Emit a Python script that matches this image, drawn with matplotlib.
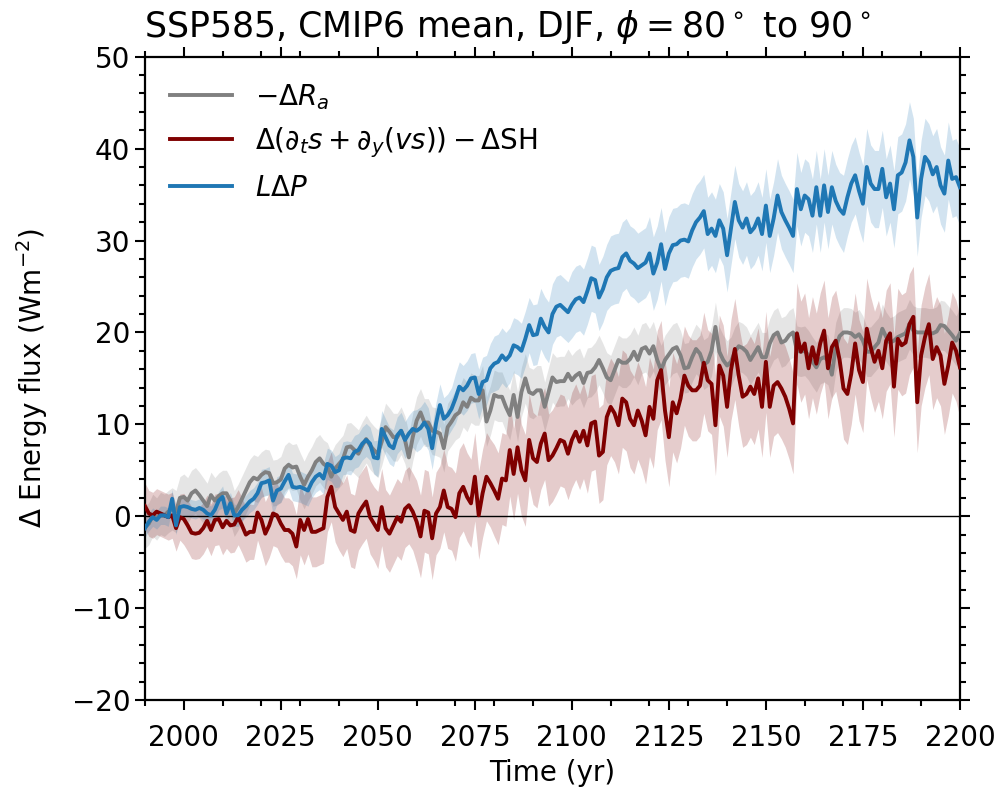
import numpy as np
import matplotlib
matplotlib.use("Agg")
import matplotlib.pyplot as plt
from matplotlib.ticker import MultipleLocator

# ---- data, one row per decade ----
neg_dRa = [
    -1.2, -0.8, 0.1, -0.3, 0.3, 0.1, 0.5, 0.8, 0.5, 2.0,
    2.1, 1.7, 2.5, 2.8, 2.3, 1.7, 1.1, 2.3, 1.7, 2.2,
    2.5, 2.5, 1.7, 0.3, 1.0, 1.9, 2.8, 3.7, 4.2, 4.0,
    4.5, 4.8, 4.7, 3.6, 3.7, 4.0, 5.2, 5.6, 5.3, 5.4,
    4.3, 3.4, 4.3, 5.0, 5.9, 6.3, 5.7, 5.4, 4.3, 5.2,
    5.7, 6.2, 7.5, 7.6, 7.2, 6.8, 7.7, 8.4, 7.7, 7.2,
    6.8, 8.1, 9.7, 9.2, 8.6, 8.6, 9.3, 8.3, 6.4, 8.6,
    10.4, 11.3, 10.2, 10.2, 9.3, 9.2, 9.0, 7.4, 9.7, 10.3,
    11.0, 11.3, 12.4, 11.9, 12.9, 12.6, 12.6, 13.7, 10.3, 11.5,
    13.2, 13.0, 13.0, 11.9, 11.0, 13.2, 10.8, 13.5, 15.0, 13.5,
    13.3, 13.7, 13.7, 11.9, 13.5, 15.1, 14.6, 14.7, 14.7, 15.5,
    14.8, 15.3, 15.6, 14.5, 15.6, 15.7, 16.2, 17.0, 16.1, 15.1,
    14.8, 15.9, 17.0, 16.7, 16.7, 17.1, 17.9, 17.0, 18.2, 18.4,
    17.7, 18.5, 17.0, 15.9, 17.0, 17.6, 18.2, 18.4, 17.5, 16.1,
    16.2, 17.3, 18.2, 17.7, 16.5, 16.8, 18.0, 20.6, 17.9, 17.0,
    16.4, 16.8, 17.9, 18.5, 18.3, 17.9, 17.0, 17.7, 18.4, 17.3,
    17.3, 18.8, 19.7, 20.0, 18.9, 19.1, 19.7, 20.0, 18.0, 17.9,
    18.0, 17.5, 16.8, 16.2, 17.1, 17.3, 17.0, 15.4, 18.4, 19.6,
    20.0, 20.0, 19.9, 19.5, 19.8, 19.1, 17.9, 17.9, 18.4, 18.9,
    20.4, 19.5, 18.9, 19.1, 19.5, 19.7, 19.9, 20.9, 20.2, 20.0,
    20.0, 20.0, 19.9, 19.9, 20.1, 20.8, 20.7, 20.2, 19.7, 19.1,
    19.9,
]

dry_static = [
    1.1, 0.3, 0.1, 0.5, 0.3, 0.1, -0.1, 0.1, -1.3, -0.1,
    -0.3, -1.0, -1.8, -1.9, -1.8, -1.3, -0.5, -1.5, -0.4, -0.3,
    -1.2, -0.5, -1.0, -0.9, -0.1, -1.0, -2.0, -1.7, -1.7, 0.4,
    -0.4, -1.9, -1.0, 0.3, 0.1, -0.8, -1.5, -1.5, -1.9, -3.3,
    -0.4, -1.5, -0.3, -1.7, -1.7, -1.5, -1.3, 2.1, 3.2, 1.0,
    0.3, -0.4, 0.5, -1.5, -1.7, 0.3, 1.0, 1.6, -0.1, -0.8,
    -1.5, 1.0, -1.3, -1.9, -1.0, -0.1, -0.6, 0.8, 1.2, 0.5,
    -0.6, -2.2, 0.6, 0.4, -2.4, 0.3, 1.0, 2.8, 1.0, 0.8,
    -0.1, 2.5, 3.2, 2.1, 1.4, 4.3, 0.1, 2.5, 4.3, 3.6,
    2.8, 1.9, 4.1, 3.9, 7.2, 4.6, 7.5, 5.0, 3.9, 8.3,
    6.3, 5.9, 7.9, 9.0, 6.1, 6.6, 7.4, 8.3, 8.1, 6.8,
    8.3, 9.2, 8.1, 9.3, 7.7, 10.1, 10.3, 6.6, 7.0, 10.8,
    11.9, 11.2, 9.9, 12.8, 12.4, 10.6, 9.9, 11.5, 10.4, 8.8,
    11.9, 10.6, 14.8, 15.9, 11.5, 8.6, 12.4, 11.2, 12.8, 15.3,
    14.2, 13.7, 13.7, 14.2, 16.7, 14.8, 14.4, 9.9, 16.4, 15.3,
    11.9, 15.9, 18.2, 15.3, 13.0, 13.3, 14.1, 13.3, 15.0, 11.9,
    16.8, 11.9, 14.2, 14.6, 13.9, 13.0, 11.7, 10.1, 19.9, 17.9,
    18.8, 16.1, 18.4, 16.6, 18.8, 20.2, 16.1, 18.4, 19.1, 17.0,
    13.9, 13.3, 15.5, 18.8, 15.9, 14.6, 20.4, 18.4, 16.8, 18.0,
    16.1, 19.1, 19.9, 14.1, 19.3, 18.6, 18.9, 20.9, 21.7, 12.4,
    17.5, 19.5, 20.9, 17.1, 18.4, 17.5, 14.4, 16.4, 18.9, 18.0,
    16.2,
]

L_dP = [
    -1.3, -0.6, -0.1, -0.4, 0.1, 0.1, -0.1, 1.9, -1.0, 1.0,
    1.1, 1.0, 0.8, 0.7, 0.9, 0.7, 0.3, 0.1, 0.7, 1.7,
    2.1, 0.3, 1.4, 0.1, 0.1, 0.7, 1.1, 1.6, 1.9, 2.5,
    3.6, 3.7, 3.9, 1.7, 2.8, 3.0, 3.8, 4.5, 3.2, 3.1,
    3.2, 3.0, 2.8, 3.7, 4.3, 4.6, 4.1, 5.7, 5.5, 4.8,
    5.0, 6.3, 6.4, 6.3, 7.0, 7.2, 7.9, 8.3, 7.9, 6.4,
    6.3, 9.5, 8.6, 7.7, 7.4, 8.8, 9.3, 8.3, 9.0, 9.5,
    9.3, 9.6, 10.2, 9.5, 7.4, 10.1, 12.1, 10.6, 11.0, 11.7,
    12.8, 14.1, 13.7, 14.2, 15.0, 15.1, 13.3, 14.6, 14.8, 16.1,
    16.6, 16.8, 17.5, 17.0, 17.5, 18.6, 18.4, 18.0, 19.3, 20.8,
    19.7, 19.8, 21.5, 20.6, 20.0, 22.0, 22.8, 23.0, 22.6, 22.2,
    23.0, 23.6, 23.8, 23.3, 24.5, 25.9, 25.7, 23.8, 24.7, 26.0,
    26.7, 26.9, 27.0, 28.2, 28.6, 27.8, 27.5, 27.0, 27.3, 27.6,
    28.6, 26.4, 27.6, 29.6, 26.9, 28.6, 29.5, 29.6, 30.0, 30.1,
    29.9, 31.1, 32.0, 32.5, 33.2, 30.7, 31.3, 30.5, 32.2, 31.3,
    28.4, 31.3, 34.2, 32.2, 31.4, 32.4, 30.9, 31.4, 32.4, 30.7,
    33.8, 30.5, 32.4, 34.9, 33.1, 32.2, 31.4, 30.5, 35.6, 33.4,
    34.9, 34.5, 32.7, 35.8, 32.7, 36.0, 33.1, 35.8, 34.3, 33.4,
    32.9, 34.7, 36.2, 37.1, 35.4, 34.0, 38.0, 36.2, 35.6, 35.6,
    37.8, 34.7, 36.2, 33.4, 37.1, 37.4, 38.5, 40.9, 39.1, 32.5,
    36.7, 39.1, 38.5, 37.2, 38.0, 36.0, 35.1, 38.7, 36.7, 36.9,
    35.8,
]

# spread (half-width of shading) per decade, 1990s ... 2190s, 2200
spread_Ra = [2.3, 2.5, 2.5, 2.5, 2.6, 2.6, 2.6, 2.6, 2.7, 2.7, 2.7,
             2.7, 2.7, 2.7, 2.7, 2.7, 2.7, 2.7, 2.7, 2.7, 2.7, 2.7]
spread_S = [2.5, 2.8, 3.0, 3.5, 3.8, 4.0, 4.2, 4.5, 4.8, 5.0, 5.0,
            5.2, 5.3, 5.4, 5.5, 5.5, 5.5, 5.5, 5.5, 5.5, 5.5, 5.5]
spread_P = [1.0, 1.0, 1.2, 1.5, 1.7, 1.8, 2.0, 2.3, 2.7, 3.0, 3.3,
            3.6, 3.8, 4.0, 4.0, 4.0, 4.0, 4.0, 4.2, 4.2, 4.2, 4.2]

years = np.arange(1990, 2201)

labels = [r'$-\Delta R_a$',
          r'$\Delta(\partial_t s+\partial_y(vs))-\Delta\mathrm{SH}$',
          r'$L\Delta P$']
colors = ['gray', '#7f0000', '#1f77b4']
series = [neg_dRa, dry_static, L_dP]
spreads = [spread_Ra, spread_S, spread_P]

xticks = [2000, 2025, 2050, 2075, 2100, 2125, 2150, 2175, 2200]

plt.rcParams['font.family'] = ['DejaVu Sans']
plt.rcParams['mathtext.fontset'] = 'dejavusans'

fig = plt.figure(figsize=(10.02, 7.91), dpi=100)
ax = fig.add_axes([0.1447, 0.115, 0.8133, 0.8133])

ax.axhline(0, color='k', lw=1.0, zorder=2.5)
for vals, spr, col, lab in zip(series, spreads, colors, labels):
    v = np.asarray(vals)
    s = np.repeat(np.asarray(spr), 10)[:len(years)]
    ax.fill_between(years, v - s, v + s, color=col, alpha=0.2, lw=0, zorder=2)
    ax.plot(years, v, color=col, lw=2.8, label=lab, zorder=3)

ax.set_xlim(1990, 2200)
ax.set_ylim(-20, 50)
ax.set_xticks(xticks)
ax.xaxis.set_minor_locator(MultipleLocator(10))
ax.yaxis.set_major_locator(MultipleLocator(10))
ax.yaxis.set_minor_locator(MultipleLocator(2))
ax.tick_params(which='both', direction='out', top=True, right=True,
               labelsize=20, width=1.5)
ax.tick_params(which='major', length=7)
ax.tick_params(which='minor', length=4)
ax.tick_params(axis='x', which='major', pad=10)
for sp in ax.spines.values():
    sp.set_linewidth(1.6)

ax.set_xlabel('Time (yr)', fontsize=20, labelpad=5)
ax.set_ylabel(r'$\Delta$ Energy flux (Wm$^{-2}$)', fontsize=20, labelpad=16)
ax.set_title(r'SSP585, CMIP6 mean, DJF, $\phi = 80^\circ$ to $90^\circ$',
             fontsize=25, pad=14, x=0.445)
ax.legend(loc='upper left', frameon=False, fontsize=20, handlelength=2.25)

fig.savefig('out.png', dpi=100)
